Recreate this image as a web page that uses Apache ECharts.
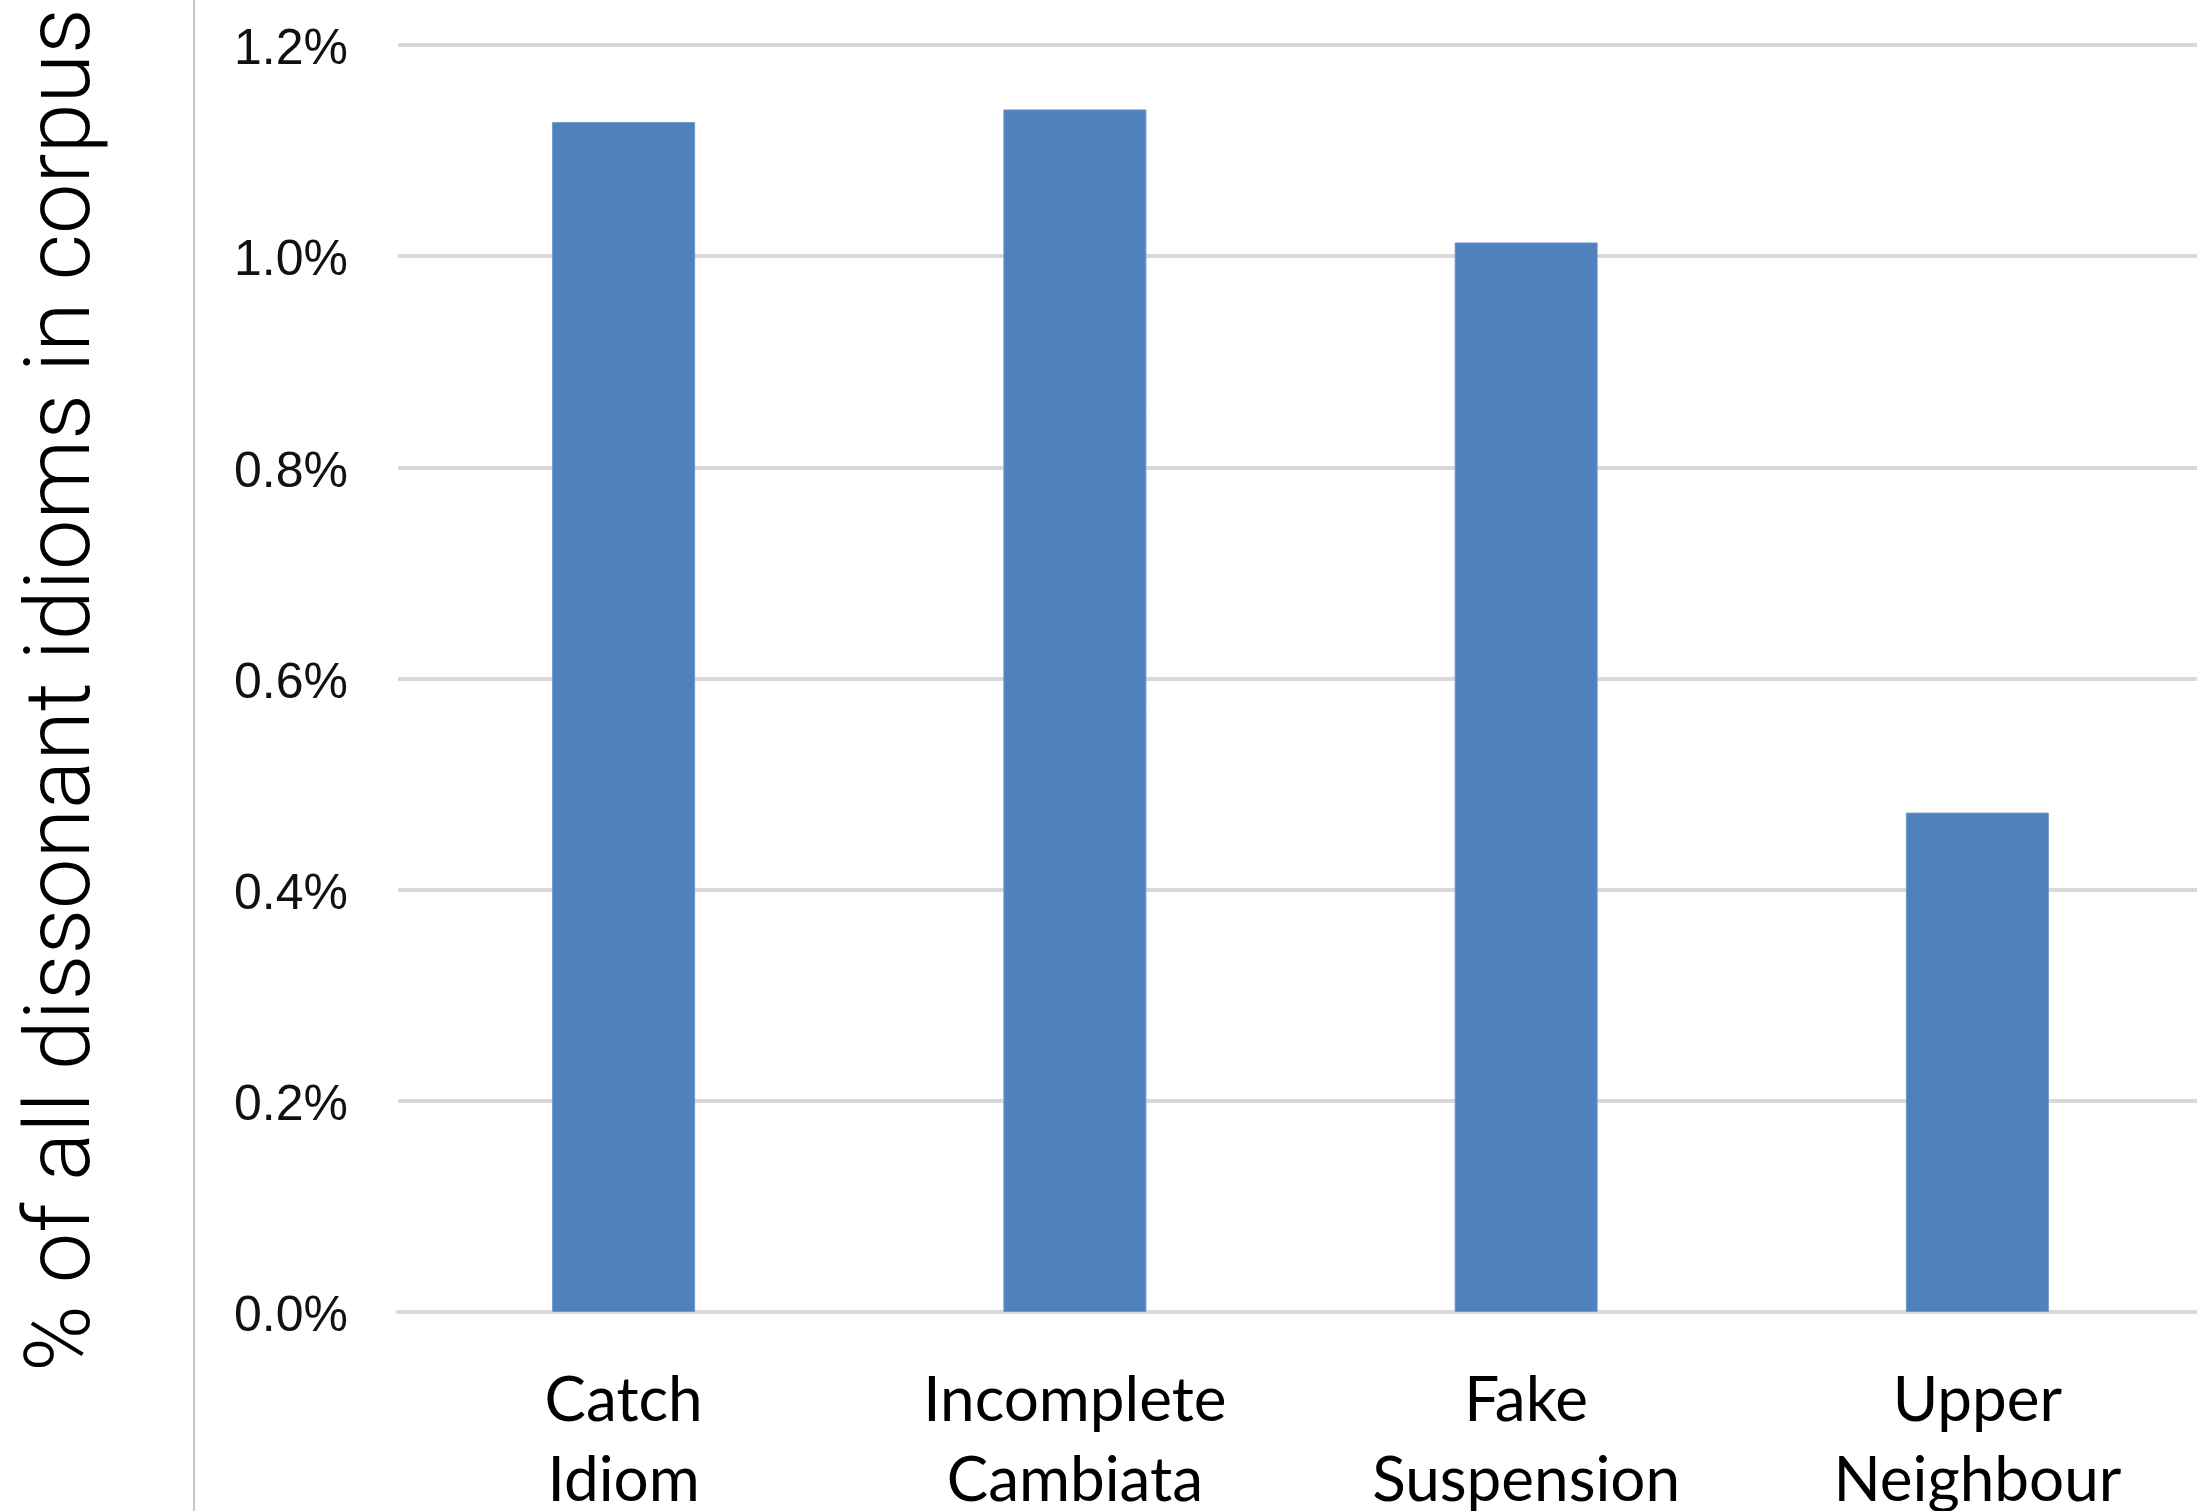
<!DOCTYPE html>
<html>
<head>
<meta charset="utf-8">
<script src="https://cdn.jsdelivr.net/npm/echarts@6/dist/echarts.min.js"></script>
<style>
html,body{margin:0;padding:0;background:#fff;}
#chart{width:2197px;height:1511px;}
</style>
</head>
<body>
<div id="chart"></div>
<script>
const categories = ['Catch\nIdiom', 'Incomplete\nCambiata', 'Fake\nSuspension', 'Upper\nNeighbour'];
const values = [1.127, 1.139, 1.013, 0.473];
const yTicks = { min: 0, max: 1.2, interval: 0.2 };
const yTitle = '% of all dissonant idioms in corpus';

const chart = echarts.init(document.getElementById('chart'), null, { renderer: 'canvas' });
chart.setOption({
  backgroundColor: '#ffffff',
  animation: false,
  grid: { left: 398, width: 1805, top: 45, bottom: 199, containLabel: false, outerBoundsMode: 'none' },
  xAxis: {
    type: 'category',
    data: categories,
    boundaryGap: true,
    axisTick: { show: false },
    axisLine: { show: true, lineStyle: { color: '#d9d9d9', width: 4 } },
    axisLabel: {
      margin: 49,
      fontFamily: 'Lato',
      fontSize: 62,
      lineHeight: 80,
      color: '#000000',
      interval: 0
    }
  },
  yAxis: {
    type: 'value',
    min: yTicks.min,
    max: yTicks.max,
    interval: yTicks.interval,
    axisLine: { show: false },
    axisTick: { show: false },
    splitLine: { show: true, lineStyle: { color: '#d9d9d9', width: 4 } },
    axisLabel: {
      margin: 50,
      fontFamily: 'Liberation Sans',
      fontSize: 50,
      color: '#111111',
      formatter: v => '{a|' + v.toFixed(1) + '%}',
      rich: {
        a: {
          fontFamily: 'Liberation Sans',
          fontSize: 50,
          color: '#111111',
          padding: [11, 0, 0, 0]
        }
      }
    }
  },
  graphic: [
    {
      type: 'line',
      shape: { x1: 194, y1: 0, x2: 194, y2: 1511 },
      style: { stroke: '#c8c8c8', lineWidth: 2 }
    },
    {
      type: 'text',
      x: 66,
      y: 690,
      rotation: Math.PI / 2,
      style: {
        text: yTitle,
        font: '300 90px Roboto',
        fill: '#000000',
        textAlign: 'center',
        textVerticalAlign: 'middle'
      }
    }
  ],
  series: [{
    type: 'bar',
    data: values,
    barWidth: 143,
    itemStyle: { color: '#4f81bd', borderColor: '#6f98c8', borderWidth: 1 }
  }]
});
</script>
</body>
</html>
